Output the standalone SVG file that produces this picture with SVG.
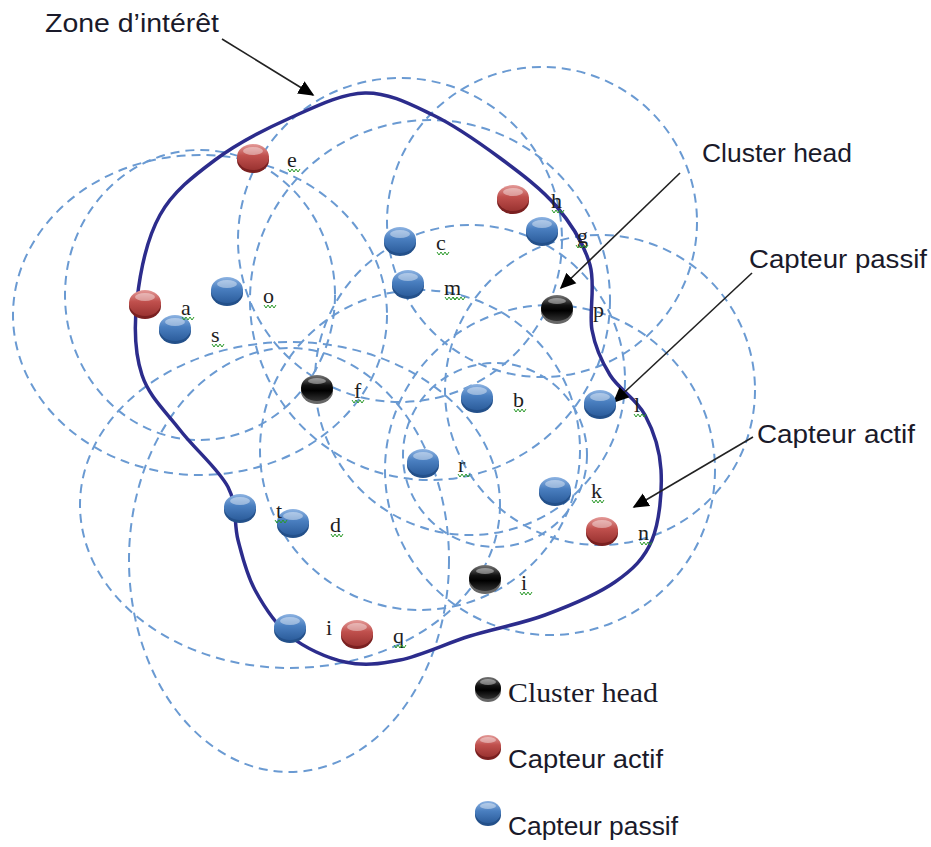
<svg xmlns="http://www.w3.org/2000/svg" width="931" height="847" viewBox="0 0 931 847">
<defs>
<style>
.rng{fill:none;stroke:#6a9ad2;stroke-width:2;stroke-dasharray:9 6}
.zone{fill:none;stroke:#2c2c8c;stroke-width:3.5}
.arr{stroke:#222;stroke-width:1.6;fill:none}
.lbl{font-family:"Liberation Serif","DejaVu Serif",serif;font-size:22px;fill:#1e1e1e}
.call{font-family:"Liberation Sans","Open Sans",sans-serif;font-size:25px;fill:#1a1a2a}
.leg{font-family:"Liberation Sans","Open Sans",sans-serif;font-size:25px;fill:#1a1a2a}
.legs{font-family:"Liberation Serif","DejaVu Serif",serif;font-size:27px;fill:#1a1a2a}
.sq{fill:none;stroke:#2a9a2a;stroke-width:1}
.blue .b{fill:#23508a}.blue .t{fill:url(#gB)}
.red .b{fill:#7a2020}.red .t{fill:url(#gR)}
.blk .b{fill:#666}.blk .t{fill:url(#gK)}
.hl{fill:#fff;opacity:0.4}
</style>
<linearGradient id="gB" x1="0" y1="0" x2="0" y2="1"><stop offset="0" stop-color="#8db3e2"/><stop offset="0.45" stop-color="#4a7fc0"/><stop offset="1" stop-color="#2c5d9c"/></linearGradient>
<linearGradient id="gR" x1="0" y1="0" x2="0" y2="1"><stop offset="0" stop-color="#e49a98"/><stop offset="0.45" stop-color="#c0504d"/><stop offset="1" stop-color="#9a3331"/></linearGradient>
<linearGradient id="gK" x1="0" y1="0" x2="0" y2="1"><stop offset="0" stop-color="#777"/><stop offset="0.4" stop-color="#111"/><stop offset="0.6" stop-color="#000"/><stop offset="1" stop-color="#333"/></linearGradient>
<marker id="ahb" viewBox="0 0 10 10" refX="9" refY="5" markerWidth="16" markerHeight="16" markerUnits="userSpaceOnUse" orient="auto"><path d="M0,0.5 L10,5 L0,9.5 z" fill="#000"/></marker>
<path id="sq" class="sq" d="M0,0 l2,3 l2,-3 l2,3 l2,-3 l2,3 l2,-3"/>
</defs>
<rect width="931" height="847" fill="#fff"/>

<g id="ranges">
<ellipse class="rng" cx="200" cy="315" rx="187" ry="160"/>
<ellipse class="rng" cx="200" cy="295" rx="135" ry="145"/>
<ellipse class="rng" cx="290" cy="505" rx="210" ry="163"/>
<ellipse class="rng" cx="289" cy="560" rx="160" ry="212"/>
<circle class="rng" cx="400" cy="240" r="162"/>
<circle class="rng" cx="430" cy="300" r="180"/>
<circle class="rng" cx="542" cy="222" r="155"/>
<circle class="rng" cx="600" cy="390" r="155"/>
<circle class="rng" cx="550" cy="470" r="165"/>
<circle class="rng" cx="495" cy="455" r="92"/>
<circle class="rng" cx="470" cy="380" r="155"/>
<circle class="rng" cx="420" cy="450" r="160"/>
</g>

<g id="zone">
<path class="zone" d="M365,93 C388.8,92.5 410.5,104.2 433,115 C455.5,125.8 479.3,142.7 500,158 C520.7,173.3 542,189.2 557,207 C572,224.8 584.2,244.5 590,265 C595.8,285.5 588.7,311.7 592,330 C595.3,348.3 601.2,360.8 610,375 C618.8,389.2 636.5,399.2 645,415 C653.5,430.8 659.8,449.2 661,470 C662.2,490.8 659.7,521.3 652,540 C644.3,558.7 632.8,569.5 615,582 C597.2,594.5 569.2,606 545,615 C520.8,624 494.2,628.5 470,636 C445.8,643.5 420.8,655.7 400,660 C379.2,664.3 363.3,666 345,662 C326.7,658 305,648 290,636 C275,624 263.7,606 255,590 C246.3,574 242.5,557.2 238,540 C233.5,522.8 237.7,505.3 228,487 C218.3,468.7 194.3,448.7 180,430 C165.7,411.3 149.2,396.7 142,375 C134.8,353.3 134,326.7 137,300 C140,273.3 147,238.3 160,215 C173,191.7 193.3,176.2 215,160 C236.7,143.8 265,129.2 290,118 C315,106.8 341.2,93.5 365,93 Z"/>
</g>

<g id="connectors">
<line class="arr" x1="222" y1="39" x2="313" y2="95" marker-end="url(#ahb)"/>
<line class="arr" x1="680" y1="173" x2="561" y2="288" marker-end="url(#ahb)"/>
<line class="arr" x1="752" y1="273" x2="614" y2="402" marker-end="url(#ahb)"/>
<line class="arr" x1="753" y1="437" x2="634" y2="507" marker-end="url(#ahb)"/>
</g>

<g id="node-e" class="red"><ellipse class="b" cx="253" cy="160" rx="16" ry="13"/><ellipse class="t" cx="253" cy="157" rx="16" ry="13"/><ellipse class="hl" cx="253" cy="151" rx="10" ry="4"/></g>
<g id="node-h" class="red"><ellipse class="b" cx="513" cy="201" rx="16" ry="13"/><ellipse class="t" cx="513" cy="198" rx="16" ry="13"/><ellipse class="hl" cx="513" cy="192" rx="10" ry="4"/></g>
<g id="node-a" class="red"><ellipse class="b" cx="145" cy="306" rx="16" ry="13"/><ellipse class="t" cx="145" cy="303" rx="16" ry="13"/><ellipse class="hl" cx="145" cy="297" rx="10" ry="4"/></g>
<g id="node-n" class="red"><ellipse class="b" cx="602" cy="533" rx="16" ry="13"/><ellipse class="t" cx="602" cy="530" rx="16" ry="13"/><ellipse class="hl" cx="602" cy="524" rx="10" ry="4"/></g>
<g id="node-q" class="red"><ellipse class="b" cx="357" cy="636" rx="16" ry="13"/><ellipse class="t" cx="357" cy="633" rx="16" ry="13"/><ellipse class="hl" cx="357" cy="627" rx="10" ry="4"/></g>

<g id="node-c" class="blue"><ellipse class="b" cx="400" cy="243" rx="16" ry="13"/><ellipse class="t" cx="400" cy="240" rx="16" ry="13"/><ellipse class="hl" cx="400" cy="234" rx="10" ry="4"/></g>
<g id="node-m" class="blue"><ellipse class="b" cx="408" cy="286" rx="16" ry="13"/><ellipse class="t" cx="408" cy="283" rx="16" ry="13"/><ellipse class="hl" cx="408" cy="277" rx="10" ry="4"/></g>
<g id="node-g" class="blue"><ellipse class="b" cx="542" cy="233" rx="16" ry="13"/><ellipse class="t" cx="542" cy="230" rx="16" ry="13"/><ellipse class="hl" cx="542" cy="224" rx="10" ry="4"/></g>
<g id="node-o" class="blue"><ellipse class="b" cx="227" cy="293" rx="16" ry="13"/><ellipse class="t" cx="227" cy="290" rx="16" ry="13"/><ellipse class="hl" cx="227" cy="284" rx="10" ry="4"/></g>
<g id="node-s" class="blue"><ellipse class="b" cx="175" cy="331" rx="16" ry="13"/><ellipse class="t" cx="175" cy="328" rx="16" ry="13"/><ellipse class="hl" cx="175" cy="322" rx="10" ry="4"/></g>
<g id="node-b" class="blue"><ellipse class="b" cx="477" cy="400" rx="16" ry="13"/><ellipse class="t" cx="477" cy="397" rx="16" ry="13"/><ellipse class="hl" cx="477" cy="391" rx="10" ry="4"/></g>
<g id="node-l" class="blue"><ellipse class="b" cx="600" cy="406" rx="16" ry="13"/><ellipse class="t" cx="600" cy="403" rx="16" ry="13"/><ellipse class="hl" cx="600" cy="397" rx="10" ry="4"/></g>
<g id="node-r" class="blue"><ellipse class="b" cx="423" cy="465" rx="16" ry="13"/><ellipse class="t" cx="423" cy="462" rx="16" ry="13"/><ellipse class="hl" cx="423" cy="456" rx="10" ry="4"/></g>
<g id="node-k" class="blue"><ellipse class="b" cx="555" cy="493" rx="16" ry="13"/><ellipse class="t" cx="555" cy="490" rx="16" ry="13"/><ellipse class="hl" cx="555" cy="484" rx="10" ry="4"/></g>
<g id="node-t0" class="blue"><ellipse class="b" cx="240" cy="510" rx="16" ry="13"/><ellipse class="t" cx="240" cy="507" rx="16" ry="13"/><ellipse class="hl" cx="240" cy="501" rx="10" ry="4"/></g>
<g id="node-t" class="blue"><ellipse class="b" cx="293" cy="525" rx="16" ry="13"/><ellipse class="t" cx="293" cy="522" rx="16" ry="13"/><ellipse class="hl" cx="293" cy="516" rx="10" ry="4"/></g>
<g id="node-i2" class="blue"><ellipse class="b" cx="290" cy="630" rx="16" ry="13"/><ellipse class="t" cx="290" cy="627" rx="16" ry="13"/><ellipse class="hl" cx="290" cy="621" rx="10" ry="4"/></g>

<g id="node-f" class="blk"><ellipse class="b" cx="317" cy="391" rx="16" ry="13"/><ellipse class="t" cx="317" cy="388" rx="16" ry="13"/><ellipse class="hl" cx="317" cy="381" rx="9" ry="3"/></g>
<g id="node-p" class="blk"><ellipse class="b" cx="557" cy="311" rx="16" ry="13"/><ellipse class="t" cx="557" cy="308" rx="16" ry="13"/><ellipse class="hl" cx="557" cy="301" rx="9" ry="3"/></g>
<g id="node-i" class="blk"><ellipse class="b" cx="485" cy="581" rx="16" ry="13"/><ellipse class="t" cx="485" cy="578" rx="16" ry="13"/><ellipse class="hl" cx="485" cy="571" rx="9" ry="3"/></g>

<g id="labels">
<text class="lbl" x="287" y="167">e</text>
<text class="lbl" x="436" y="250">c</text>
<text class="lbl" x="444" y="295">m</text>
<text class="lbl" x="263" y="303">o</text>
<text class="lbl" x="181" y="315">a</text>
<text class="lbl" x="211" y="342">s</text>
<text class="lbl" x="551" y="208">h</text>
<text class="lbl" x="577" y="243">g</text>
<text class="lbl" x="593" y="317">p</text>
<text class="lbl" x="354" y="398">f</text>
<text class="lbl" x="276" y="518">t</text>
<text class="lbl" x="330" y="532">d</text>
<text class="lbl" x="513" y="407">b</text>
<text class="lbl" x="634" y="412">l</text>
<text class="lbl" x="458" y="472">r</text>
<text class="lbl" x="591" y="498">k</text>
<text class="lbl" x="638" y="540">n</text>
<text class="lbl" x="521" y="590">i</text>
<text class="lbl" x="326" y="635">i</text>
<text class="lbl" x="393" y="643">q</text>
</g>
<g id="squiggles">
<use href="#sq" x="288" y="169"/><use href="#sq" x="437" y="252"/><use href="#sq" x="445" y="297"/><use href="#sq" x="453" y="297"/>
<use href="#sq" x="264" y="305"/><use href="#sq" x="182" y="317"/><use href="#sq" x="212" y="344"/><use href="#sq" x="552" y="210"/>
<use href="#sq" x="576" y="245"/><use href="#sq" x="352" y="400"/><use href="#sq" x="275" y="520"/><use href="#sq" x="331" y="534"/>
<use href="#sq" x="514" y="409"/><use href="#sq" x="634" y="414"/><use href="#sq" x="458" y="474"/><use href="#sq" x="592" y="500"/>
<use href="#sq" x="640" y="542"/><use href="#sq" x="520" y="592"/><use href="#sq" x="394" y="645"/>
</g>

<g id="callouts">
<text class="call" x="45" y="32" textLength="174" lengthAdjust="spacingAndGlyphs">Zone d’intérêt</text>
<text class="call" x="702" y="162" textLength="150" lengthAdjust="spacingAndGlyphs">Cluster head</text>
<text class="call" x="749" y="268" textLength="178" lengthAdjust="spacingAndGlyphs">Capteur passif</text>
<text class="call" x="757" y="443" textLength="158" lengthAdjust="spacingAndGlyphs">Capteur actif</text>
</g>

<g id="legend">
<g id="leg-ch" class="blk"><ellipse class="b" cx="488" cy="691" rx="13" ry="11"/><ellipse class="t" cx="488" cy="688" rx="13" ry="11"/><ellipse class="hl" cx="488" cy="682" rx="8" ry="3"/></g>
<g id="leg-act" class="red"><ellipse class="b" cx="488" cy="749" rx="13" ry="11"/><ellipse class="t" cx="488" cy="746" rx="13" ry="11"/><ellipse class="hl" cx="488" cy="740" rx="8" ry="3"/></g>
<g id="leg-pas" class="blue"><ellipse class="b" cx="488" cy="815" rx="13" ry="11"/><ellipse class="t" cx="488" cy="812" rx="13" ry="11"/><ellipse class="hl" cx="488" cy="806" rx="8" ry="3"/></g>
<text class="legs" x="508" y="702" textLength="150" lengthAdjust="spacingAndGlyphs">Cluster head</text>
<text class="leg" x="508" y="768" textLength="155" lengthAdjust="spacingAndGlyphs">Capteur  actif</text>
<text class="leg" x="508" y="835" textLength="170" lengthAdjust="spacingAndGlyphs">Capteur passif</text>
</g>
</svg>
